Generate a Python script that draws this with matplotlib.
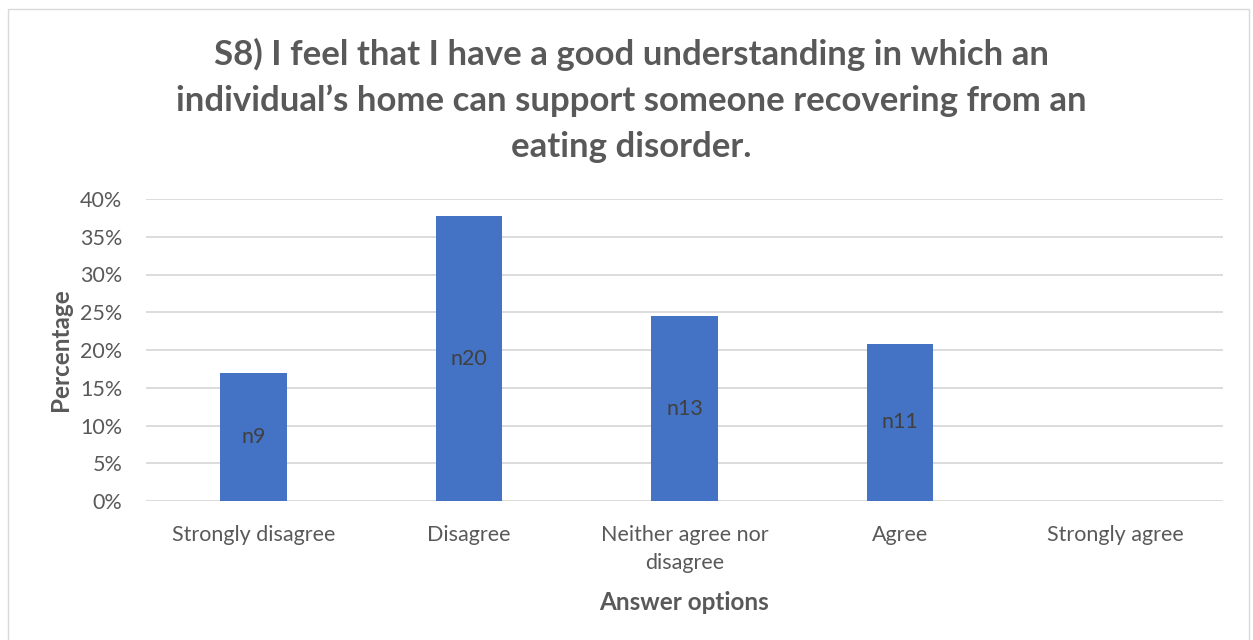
import matplotlib.pyplot as plt
from matplotlib.patches import Rectangle
from matplotlib.ticker import PercentFormatter, MultipleLocator

categories = ["Strongly disagree", "Disagree", "Neither agree nor\ndisagree", "Agree", "Strongly agree"]
shares = [0.170, 0.377, 0.245, 0.208, 0.0]
counts = ["n9", "n20", "n13", "n11", ""]

BAR = "#4472C4"
TXT = "#595959"
GRID = "#D9D9D9"

plt.rcParams["font.family"] = ["Lato", "DejaVu Sans"]

W, H = 1253, 640
fig = plt.figure(figsize=(W / 100, H / 100), dpi=100)

# outer chart frame
fig.patches.append(Rectangle((8 / W, -0.05), (1249 - 8) / W, 1.05 - 9 / H,
                             transform=fig.transFigure, fill=False,
                             edgecolor="#D9D9D9", lw=1.0))

ax = fig.add_axes([146 / W, (H - 501) / H, 1077 / W, 302 / H])

x = range(len(categories))
bars = ax.bar(x, shares, width=0.31, color=BAR, zorder=3)
for b, lbl in zip(bars, counts):
    if lbl:
        ax.text(b.get_x() + b.get_width() / 2, b.get_height() / 2, lbl,
                ha="center", va="center", fontsize=15.5, color="#404040", zorder=4)

ax.set_xlim(-0.5, len(categories) - 0.5)
ax.set_ylim(0, 0.40)
ax.yaxis.set_major_locator(MultipleLocator(0.05))
ax.yaxis.set_major_formatter(PercentFormatter(1.0, decimals=0))
ax.set_xticks(list(x))
ax.set_xticklabels(categories, fontsize=15.5, color=TXT, linespacing=1.55)
ax.tick_params(axis="y", labelsize=15.5, labelcolor=TXT, length=0, pad=17)
ax.tick_params(axis="x", length=0, pad=17)
ax.grid(axis="y", color=GRID, lw=1.3, zorder=0)
for s in ax.spines.values():
    s.set_visible(False)

ax.set_ylabel("Percentage", fontsize=17.5, fontweight="bold", color=TXT, va="center")
ax.yaxis.set_label_coords((61 - 146) / 1077, 0.5)
ax.set_xlabel("Answer options", fontsize=17.5, fontweight="bold", color=TXT, va="center")
ax.xaxis.set_label_coords(0.5, -(602 - 501) / 302)

fig.text(631 / W, 1 - 100 / H,
         "S8) I feel that I have a good understanding in which an\n"
         "individual\u2019s home can support someone recovering from an\n"
         "eating disorder.",
         ha="center", va="center", fontsize=25, fontweight="bold", color=TXT,
         linespacing=1.52)

fig.savefig("out.png", dpi=100)
